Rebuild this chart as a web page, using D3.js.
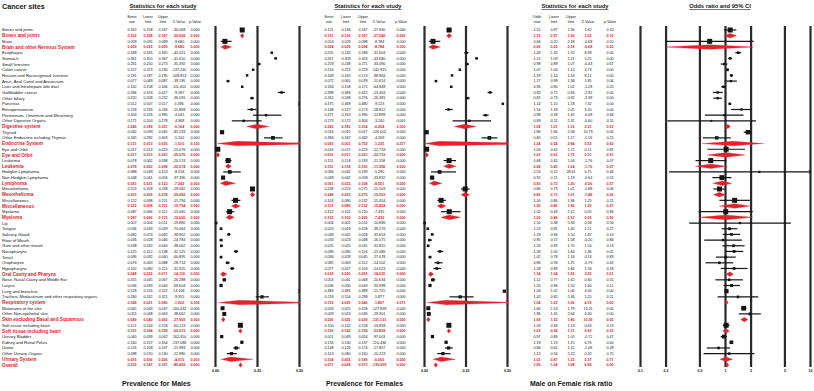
<!DOCTYPE html>
<html>
<head>
<meta charset="utf-8">
<script src="https://cdn.jsdelivr.net/npm/d3@7"></script>
<style>
  body { margin: 0; background: #fff; }
  svg { display: block; }
  text { font-family: "Liberation Sans", Arial, sans-serif; }
</style>
</head>
<body>
<div id="container"></div>
<script>
// ---- data ----
let sites = ["Bones and joints", "Bones and joints", "Brain", "Brain and other Nervous System", "Esophagus", "Stomach",
  "Small Intestine", "Colon cancer", "Rectum and Rectosigmoid Junction", "Anus, Anal Canal and Anorectum",
  "Liver and Intrahepatic bile duct", "Gallbladder cancer", "Other biliary", "Pancreas", "Retroperitoneum",
  "Peritoneum, Omentum and Mesentery", "Other Digestive Organs", "Digestive system", "Thyroid",
  "Other Endocrine including Thymus", "Endocrine System", "Eye and Orbit", "Eye and Orbit", "Leukemia", "Leukemia",
  "Hodgkin Lymphoma", "Non-Hodgkin Lymphoma", "Lymphoma", "Mesothelioma", "Mesothelioma", "Miscellaneous",
  "Miscellaneous", "Myeloma", "Myeloma", "Lip", "Tongue", "Salivary Gland", "Floor of Mouth", "Gum and other mouth",
  "Nasopharynx", "Tonsil", "Oropharynx", "Hypopharynx", "Oral Cavity and Pharynx", "Nose, Nasal Cavity and Middle Ear",
  "Larynx", "Lung and bronchus", "Trachea, Mediastinum and other respiratory organs", "Respiratory system",
  "Melanoma of the skin", "Other Non-epithelial skin", "Skin excluding Basal and Squamous",
  "Soft tissue including heart", "Soft tissue including heart", "Urinary Bladder", "Kidney and Renal Pelvis",
  "Ureter", "Other Urinary Organs", "Urinary System", "Overall"];

// 1 = pooled subgroup row (red)
let subtotal = [0,1,0,1, 0,0,0,0,0,0,0,0,0,0,0,0,0, 1, 0,0,1, 0,1, 0,1, 0,0,1, 0,1, 0,1, 0,1,
  0,0,0,0,0,0,0,0,0, 1, 0,0,0,0, 1, 0,0,1, 0,1, 0,0,0,0, 1, 1];

let maleRate = [0.162,0.162,0.059,0.059,0.338,0.361,0.261,0.227,0.191,0.077, 0.162,0.396,0.220,0.512,0.218,0.304,0.171,0.249,0.042,0.345,
  0.131,0.017,0.017,0.078,0.078,0.088,0.048,0.063,0.223,0.223, 0.122,0.122,0.087,0.087,0.007,0.036,0.082,0.036,0.038,0.125,
  0.036,0.074,0.102,0.048,0.055,0.036,0.518,0.280,0.148,0.045, 0.055,0.049,0.151,0.151,0.040,0.160,0.126,0.098,0.093,0.152];
let maleLower = [0.158,0.158,0.035,0.035,0.331,0.355,0.250,0.223,0.187,0.069, 0.158,0.374,0.208,0.507,0.193,0.226,0.100,0.189,0.039,0.292,
  0.013,0.013,0.013,0.062,0.062,0.049,0.041,0.031,0.209,0.209, 0.098,0.098,0.066,0.066,0.004,0.033,0.074,0.028,0.032,0.112,
  0.032,0.063,0.090,0.032,0.045,0.033,0.516,0.242,0.021,0.043, 0.048,0.040,0.144,0.144,0.039,0.157,0.109,0.070,0.036,0.147];
let maleUpper = [0.167,0.167,0.099,0.099,0.345,0.367,0.273,0.230,0.195,0.087, 0.166,0.417,0.232,0.517,0.246,0.395,0.278,0.321,0.045,0.403,
  0.635,0.023,0.023,0.098,0.098,0.153,0.056,0.123,0.238,0.238, 0.151,0.151,0.115,0.115,0.011,0.039,0.092,0.046,0.044,0.138,
  0.040,0.088,0.115,0.071,0.067,0.040,0.522,0.321,0.580,0.047, 0.063,0.060,0.158,0.158,0.042,0.164,0.147,0.130,0.226,0.157];
let maleZ = [-30.069,-30.069,-9.680,-9.680,-42.021,-41.610,-35.392,-137.240,-109.813,-39.190, -111.401,-9.187,-36.091,4.396,-15.869,-4.041,-4.968,-6.164,-85.533,-5.102,
  -1.510,-25.076,-25.076,-20.574,-20.574,-8.558,-37.390,-7.242,-29.082,-29.082, -15.794,-15.794,-15.065,-15.065,-19.880,-70.464,-39.902,-24.784,-38.062,-32.125,
  -60.895,-28.714,-31.325,-14.116,-26.288,-69.604,14.106,-9.355,-1.622,-160.432, -38.662,-27.909,-60.213,-60.213,-162.450,-137.086,-21.983,-12.980,-4.015,-85.469];
let maleP = [0,0,0,0,0,0,0,0,0,0, 0,0,0,0,0,0,0,0,0,0, 0.130,0,0,0,0,0,0,0,0,0, 0,0,0,0,0,0,0,0,0,0,
  0,0,0,0,0,0,0,0,0.105,0, 0,0,0,0,0,0,0,0,0,0];

let femaleRate = [0.151,0.151,0.054,0.054,0.255,0.317,0.259,0.216,0.169,0.072, 0.164,0.398,0.262,0.475,0.148,0.371,0.273,0.243,0.016,0.394,
  0.093,0.016,0.016,0.151,0.151,0.094,0.049,0.061,0.248,0.248, 0.103,0.103,0.152,0.152,0.004,0.023,0.049,0.033,0.025,0.096,
  0.036,0.085,0.077,0.039,0.053,0.036,0.484,0.218,0.133,0.026, 0.029,0.026,0.150,0.150,0.051,0.133,0.148,0.114,0.104,0.071];
let femaleLower = [0.136,0.136,0.029,0.029,0.242,0.309,0.248,0.213,0.165,0.065, 0.158,0.383,0.248,0.469,0.127,0.353,0.172,0.183,0.015,0.347,
  0.003,0.011,0.011,0.118,0.118,0.042,0.042,0.033,0.223,0.223, 0.080,0.080,0.102,0.102,0.002,0.019,0.042,0.023,0.020,0.080,
  0.028,0.063,0.057,0.026,0.041,0.030,0.481,0.154,0.020,0.025, 0.023,0.025,0.142,0.142,0.049,0.130,0.126,0.080,0.055,0.068];
let femaleUpper = [0.167,0.167,0.098,0.098,0.268,0.324,0.271,0.219,0.174,0.078, 0.171,0.412,0.276,0.480,0.173,0.390,0.404,0.314,0.017,0.442,
  0.752,0.023,0.023,0.193,0.193,0.193,0.058,0.108,0.275,0.275, 0.132,0.132,0.220,0.220,0.011,0.028,0.058,0.048,0.031,0.116,
  0.045,0.112,0.103,0.059,0.068,0.043,0.489,0.299,0.540,0.028, 0.036,0.029,0.158,0.158,0.054,0.137,0.174,0.160,0.189,0.073];
let femaleZ = [-27.940,-27.940,-8.784,-8.784,-31.604,-43.680,-34.490,-142.915,-98.964,-51.614, -64.849,-13.463,-26.381,-9.123,-18.812,-12.899,-3.240,-6.254,-126.002,-4.269,
  -1.235,-22.733,-22.733,-11.558,-11.558,-5.290,-33.832,-8.501,-15.503,-15.503, -15.454,-15.454,-7.435,-7.435,-10.896,-39.276,-32.653,-16.575,-31.815,-21.086,
  -27.078,-14.502,-14.623,-14.635,-20.634,-33.999,-11.715,-5.877,-1.807,-127.839, -29.301,-131.151,-53.858,-53.858,-97.003,-110.436,-17.807,-10.223,-6.065,-139.959];
let femaleP = [0,0,0,0,0,0,0,0,0,0, 0,0,0,0,0,0,0.001,0,0,0, 0.217,0,0,0,0,0,0,0,0,0, 0,0,0,0,0,0,0,0,0,0,
  0,0,0,0,0,0,0,0,0.071,0, 0,0,0,0,0,0,0,0,0,0];

let oddsRatio = [1.15,1.15,0.66,0.66,1.43,1.15,0.98,1.07,1.19,1.17, 0.96,0.82,0.82,1.14,1.56,0.98,0.69,1.08,1.86,0.80,
  1.24,1.03,1.03,0.68,0.68,2.53,0.92,0.93,0.86,0.86, 1.30,1.30,1.02,1.02,1.50,1.13,1.19,0.95,1.26,1.28,
  1.02,0.86,1.28,1.14,1.12,1.20,1.04,1.42,1.04,1.66, 1.96,1.69,1.03,1.03,0.97,1.19,0.84,1.12,1.03,1.06];
let oddsLower = [0.97,0.97,0.20,0.20,1.32,1.09,0.89,1.04,1.14,0.99, 0.90,0.72,0.73,1.10,1.18,0.58,0.21,1.01,1.66,0.55,
  0.54,0.62,0.62,0.45,0.45,0.22,0.71,0.72,0.73,0.73, 0.86,0.86,0.49,0.49,0.38,0.91,0.94,0.57,0.93,1.00,
  0.78,0.59,0.89,1.04,0.77,0.96,1.02,0.82,1.02,1.54, 1.45,1.53,0.94,0.94,0.89,1.13,0.61,0.56,0.87,1.04];
let oddsUpper = [1.36,1.36,2.18,2.18,1.55,1.21,1.07,1.10,1.24,1.38, 1.02,0.94,0.92,1.18,2.05,1.65,2.31,1.16,2.08,1.17,
  2.84,1.72,1.72,1.04,1.04,28.61,1.19,1.20,1.01,1.01, 1.96,1.96,2.12,2.12,5.94,1.40,1.50,1.58,1.70,1.64,
  1.34,1.25,1.84,1.26,1.62,1.50,1.06,2.46,1.06,1.79, 2.64,1.86,1.13,1.13,1.05,1.25,1.15,2.22,1.23,1.08];
let oddsZ = [1.62,1.62,-0.68,-0.68,8.39,5.25,-0.43,4.73,8.11,1.85, -1.28,-2.92,-3.38,7.32,3.20,-0.08,-0.60,2.21,10.79,-1.16,
  0.52,0.11,0.11,-1.76,-1.76,0.75,-0.64,-0.56,-1.88,-1.88, 1.25,1.25,0.05,0.05,0.58,1.11,1.47,-0.20,1.50,1.96,
  0.14,-0.79,1.33,2.65,0.60,1.60,4.00,1.25,4.19,13.21, 4.40,10.36,0.63,0.63,-0.72,6.76,-1.08,0.32,0.37,6.65];
let oddsP = [0.10,0.10,0.50,0.50,0.00,0.00,0.67,0.00,0.00,0.06, 0.20,0.00,0.00,0.00,0.00,0.94,0.55,0.03,0.00,0.25,
  0.60,0.91,0.91,0.07,0.07,0.46,0.52,0.57,0.06,0.06, 0.21,0.21,0.96,0.96,0.56,0.27,0.14,0.84,0.13,0.05,
  0.89,0.43,0.18,0.01,0.55,0.11,0.00,0.21,0.00,0.00, 0.00,0.00,0.53,0.53,0.47,0.00,0.28,0.75,0.71,0.00];

// relative weights inside each subgroup (box size)
let prevWeight = [100,0,100,0, 8,8,8,8,8,8,8,8,8,8,8,8,8, 0, 60,40,0, 100,0, 100,0, 40,60,0, 100,0, 100,0, 100,0,
  11,11,11,11,11,11,11,11,11, 0, 25,25,25,25, 0, 50,50,0, 100,0, 25,25,25,25, 0, 0];
let orWeight = [100,0,100,0, 10,8,8,12,10,6,8,7,7,9,5,4,2, 0, 70,30,0, 100,0, 100,0, 5,95,0, 100,0, 100,0, 100,0,
  5,14,12,8,12,14,13,10,12, 0, 10,20,60,10, 0, 85,15,0, 100,0, 45,35,10,10, 0, 0];

let prevTicks = [0, 0.25, 0.5];
let orTicks = [0.1, 0.2, 0.5, 1, 2, 5, 10];

// ---- drawing ----
let w = 814;
let h = 391;
let red = "#e2232b";
let ink = "#151515";
let lineInk = "#2b2b2b";
let plotTop = 26;
let plotBottom = 367;

let viz = d3.select("#container")
  .append("svg")
  .attr("width", w)
  .attr("height", h)
  .style("background-color", "white");

let yScale = d3.scalePoint().domain(d3.range(sites.length)).range([30, 365]);
let boxSize = d3.scaleSqrt().domain([0, 100]).range([1.5, 5]);

viz.append("text")
  .attr("x", 2).attr("y", 9)
  .attr("font-size", 7.2).attr("font-weight", "bold").attr("fill", ink)
  .text("Cancer sites");

viz.append("g").selectAll("text")
  .data(sites)
  .join("text")
  .attr("x", 2)
  .attr("y", (d, i) => yScale(i))
  .attr("dy", "0.35em")
  .attr("font-size", (d, i) => subtotal[i] ? 4.7 : 4.2)
  .attr("font-weight", (d, i) => subtotal[i] ? "bold" : "normal")
  .attr("fill", (d, i) => subtotal[i] ? red : ink)
  .text(d => d);

function drawStats(columns, headers, digits, xs, titleX) {
  let g = viz.append("g");
  g.append("text")
    .attr("x", titleX).attr("y", 8)
    .attr("text-anchor", "middle")
    .attr("font-size", 5.8).attr("font-weight", "bold")
    .attr("text-decoration", "underline")
    .attr("fill", ink)
    .text("Statistics for each study");

  headers.forEach((lines, c) => {
    lines.forEach((line, k) => {
      g.append("text")
        .attr("x", xs[c]).attr("y", 17.5 + k * 5.5)
        .attr("text-anchor", "middle")
        .attr("font-size", 3.6).attr("fill", ink)
        .text(line);
    });
  });

  columns.forEach((col, c) => {
    g.append("g").selectAll("text")
      .data(col)
      .join("text")
      .attr("x", xs[c])
      .attr("y", (d, i) => yScale(i))
      .attr("dy", "0.35em")
      .attr("text-anchor", "middle")
      .attr("font-size", 3.7)
      .attr("font-weight", (d, i) => subtotal[i] ? "bold" : "normal")
      .attr("fill", (d, i) => subtotal[i] ? red : ink)
      .text(d => d.toFixed(digits));
  });
}

function arrow(g, x, y, color) {
  g.append("path")
    .attr("d", `M${x - 2.2},${y - 1.6}L${x},${y}L${x - 2.2},${y + 1.6}`)
    .attr("fill", "none").attr("stroke", color).attr("stroke-width", 0.9);
}

function drawForest(est, lo, hi, weight, xScale, ticks, fmt, label, labelX, id) {
  let g = viz.append("g");
  let [x0, x1] = xScale.range();
  let [d0, d1] = xScale.domain();

  g.append("defs").append("clipPath").attr("id", id)
    .append("rect").attr("x", x0 - 1).attr("y", 0).attr("width", x1 - x0 + 2).attr("height", h);

  // axis with full-height tick lines as the vertical reference lines
  let axis = g.append("g")
    .attr("transform", `translate(0, ${plotBottom})`)
    .call(d3.axisBottom(xScale)
      .tickValues(ticks)
      .tickFormat(fmt)
      .tickSize(-(plotBottom - plotTop))
      .tickPadding(2.5));
  axis.select(".domain").remove();
  axis.selectAll(".tick line")
    .attr("stroke", lineInk)
    .attr("stroke-width", 2.2);
  axis.selectAll(".tick text")
    .attr("font-size", 3.6)
    .attr("font-weight", "bold")
    .attr("font-family", "Liberation Sans, Arial, sans-serif")
    .attr("fill", ink);

  g.append("text")
    .attr("x", labelX).attr("y", 386)
    .attr("font-size", 6.9).attr("font-weight", "bold").attr("fill", ink)
    .text(label);

  let marks = g.append("g").attr("clip-path", `url(#${id})`);

  est.forEach((v, i) => {
    let y = yScale(i);
    let xl = xScale(Math.max(lo[i], d0));
    let xu = xScale(Math.min(hi[i], d1));
    if (subtotal[i]) {
      let xm = xScale(v);
      let left = Math.min(xScale(lo[i]), xm - 1.8);
      let right = Math.max(xScale(hi[i]), xm + 1.8);
      marks.append("path")
        .attr("d", `M${left},${y}L${xm},${y - 2.3}L${right},${y}L${xm},${y + 2.3}Z`)
        .attr("fill", red).attr("stroke", red).attr("stroke-width", 0.3);
      if (hi[i] > d1) arrow(g, x1 + 1, y, red);
    } else {
      if (v > d1) {
        arrow(g, x1 + 1, y, ink);
        return;
      }
      marks.append("line")
        .attr("x1", xl).attr("x2", xu)
        .attr("y1", y).attr("y2", y)
        .attr("stroke", ink).attr("stroke-width", 1.2);
      let s = boxSize(weight[i]);
      marks.append("rect")
        .attr("x", xScale(v) - s / 2).attr("y", y - s / 2)
        .attr("width", s).attr("height", s)
        .attr("fill", ink);
      if (hi[i] > d1) arrow(g, x1 + 1, y, ink);
    }
  });
}

let prevHeaders = [["Event", "rate"], ["Lower", "limit"], ["Upper", "limit"], ["", "Z-Value"], ["", "p-Value"]];
let orHeaders = [["Odds", "ratio"], ["Lower", "limit"], ["Upper", "limit"], ["", "Z-Value"], ["", "p-Value"]];

drawStats([maleRate, maleLower, maleUpper, maleZ, maleP], prevHeaders, 3, [132, 148, 163, 179, 195], 163);
drawStats([femaleRate, femaleLower, femaleUpper, femaleZ, femaleP], prevHeaders, 3, [329, 346, 363, 379, 401], 368);
drawStats([oddsRatio, oddsLower, oddsUpper, oddsZ, oddsP], orHeaders, 2, [537, 554, 571, 588, 610], 575);

let xMale = d3.scaleLinear().domain([0, 0.5]).range([215, 299]);
let xFemale = d3.scaleLinear().domain([0, 0.5]).range([424, 507]);
let xOdds = d3.scaleLog().domain([0.1, 10]).range([640, 810]);

drawForest(maleRate, maleLower, maleUpper, prevWeight, xMale, prevTicks, d => d.toFixed(2), "Prevalence for Males", 122, "clipM");
drawForest(femaleRate, femaleLower, femaleUpper, prevWeight, xFemale, prevTicks, d => d.toFixed(2), "Prevalence for Females", 326, "clipF");
drawForest(oddsRatio, oddsLower, oddsUpper, orWeight, xOdds, orTicks, d => String(d), "Male on Female risk ratio", 530, "clipO");

viz.append("text")
  .attr("x", 720).attr("y", 8)
  .attr("text-anchor", "middle")
  .attr("font-size", 5.8).attr("font-weight", "bold")
  .attr("text-decoration", "underline")
  .attr("fill", ink)
  .text("Odds ratio and 95% CI");
</script>
</body>
</html>
